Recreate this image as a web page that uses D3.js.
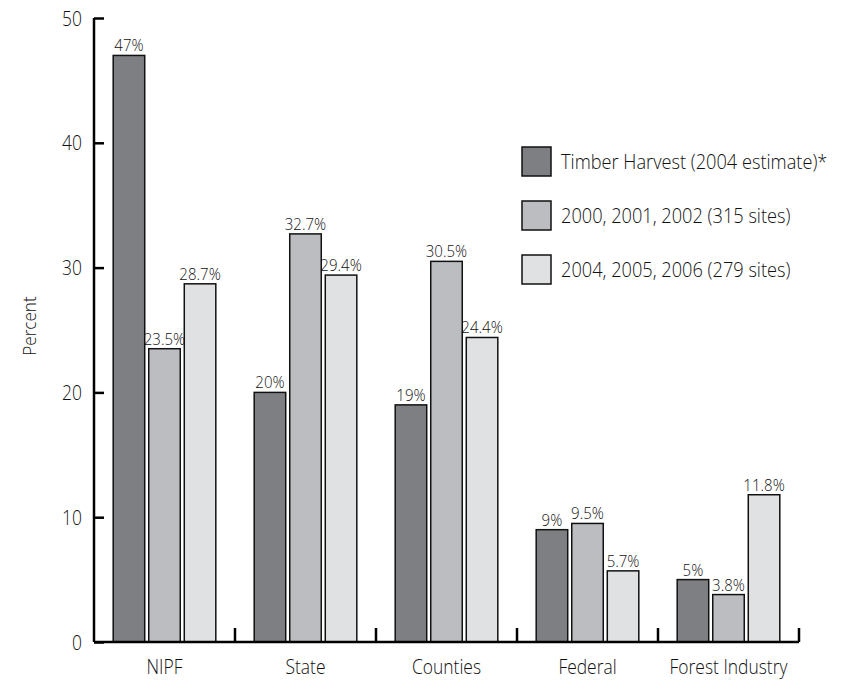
<!DOCTYPE html>
<html>
<head>
<meta charset="utf-8">
<script src="https://cdn.jsdelivr.net/npm/d3@7"></script>
<style>
  html, body { margin: 0; padding: 0; background: #fff; }
  svg text { font-family: "Open Sans", "DejaVu Sans", sans-serif; font-weight: 300; fill: #111; }
</style>
</head>
<body>
<svg id="chart" width="848" height="680"></svg>
<script>
// Ownership categories along the x axis
const categories = ["NIPF", "State", "Counties", "Federal", "Forest Industry"];

// Series (legend order) and their values in percent
const seriesNames = [
  "Timber Harvest (2004 estimate)*",
  "2000, 2001, 2002 (315 sites)",
  "2004, 2005, 2006 (279 sites)"
];
const timberHarvest = [47, 20, 19, 9, 5];
const sites2000to2002 = [23.5, 32.7, 30.5, 9.5, 3.8];
const sites2004to2006 = [28.7, 29.4, 24.4, 5.7, 11.8];
const valueLabels = [
  ["47%", "20%", "19%", "9%", "5%"],
  ["23.5%", "32.7%", "30.5%", "9.5%", "3.8%"],
  ["28.7%", "29.4%", "24.4%", "5.7%", "11.8%"]
];
const yTicks = [0, 10, 20, 30, 40, 50];

const seriesValues = [timberHarvest, sites2000to2002, sites2004to2006];
const colors = ["#7e7f83", "#bcbdc1", "#e0e1e3"];

const svg = d3.select("#chart");
const plotLeft = 94, plotRight = 799, plotTop = 18, plotBottom = 642;

const x0 = d3.scaleBand().domain(categories).range([plotLeft, plotRight]).padding(0);
const x1 = d3.scaleBand().domain(d3.range(seriesNames.length))
  .range([0, x0.bandwidth()]).paddingInner(0.113).paddingOuter(0.54);
const y = d3.scaleLinear().domain([0, 50]).range([plotBottom, plotTop]);

// text helper with horizontal condensing
function label(g, tx, ty, str, size, squeeze, anchor, rotate) {
  return g.append("text")
    .attr("transform", `translate(${tx},${ty})${rotate ? " rotate(" + rotate + ")" : ""} scale(${squeeze},1)`)
    .attr("text-anchor", anchor)
    .style("font-size", size + "px")
    .text(str);
}

// bars
const groups = svg.append("g").selectAll("g")
  .data(categories).join("g")
  .attr("transform", d => `translate(${x0(d)},0)`);

groups.each(function(cat, ci) {
  const g = d3.select(this);
  seriesValues.forEach((vals, si) => {
    const v = vals[ci];
    g.append("rect")
      .attr("x", x1(si))
      .attr("y", y(v))
      .attr("width", x1.bandwidth())
      .attr("height", y(0) - y(v))
      .attr("fill", colors[si])
      .attr("stroke", "#111")
      .attr("stroke-width", 1.5);
    label(g, x1(si) + x1.bandwidth() / 2, y(v) - 4, valueLabels[si][ci], 15.5, 0.97, "middle");
  });
});

// y axis
const yAxis = d3.axisRight(y).tickValues(yTicks).tickSize(10).tickFormat("");
const ya = svg.append("g").attr("transform", `translate(${plotLeft},0)`).call(yAxis);
ya.select(".domain").attr("d", `M0,${plotTop}V${plotBottom}`);
ya.selectAll("line, path").attr("stroke", "#000").attr("stroke-width", 2.5);
yTicks.forEach(t => label(svg, 82, y(t) + 7.5, String(t), 21, 0.83, "end"));

// x axis with upward ticks at category boundaries
const xa = svg.append("g");
xa.append("line").attr("x1", plotLeft).attr("x2", plotRight).attr("y1", plotBottom).attr("y2", plotBottom)
  .attr("stroke", "#000").attr("stroke-width", 2.5);
categories.forEach(c => {
  const bx = x0(c) + x0.bandwidth();
  xa.append("line").attr("x1", bx).attr("x2", bx).attr("y1", plotBottom).attr("y2", plotBottom - 14)
    .attr("stroke", "#000").attr("stroke-width", 2.5);
  label(svg, x0(c) + x0.bandwidth() / 2, 674, c, 21, 0.83, "middle");
});

// y axis title
label(svg, 36, 326, "Percent", 18, 0.95, "middle", -90);

// legend
const legend = svg.append("g").attr("transform", "translate(522,147)");
seriesNames.forEach((name, i) => {
  legend.append("rect")
    .attr("x", 0).attr("y", i * 54)
    .attr("width", 29).attr("height", 29)
    .attr("fill", colors[i]).attr("stroke", "#111").attr("stroke-width", 1.5);
  label(legend, 39, i * 54 + 21.5, name, 20, 0.91, "start");
});
</script>
</body>
</html>
